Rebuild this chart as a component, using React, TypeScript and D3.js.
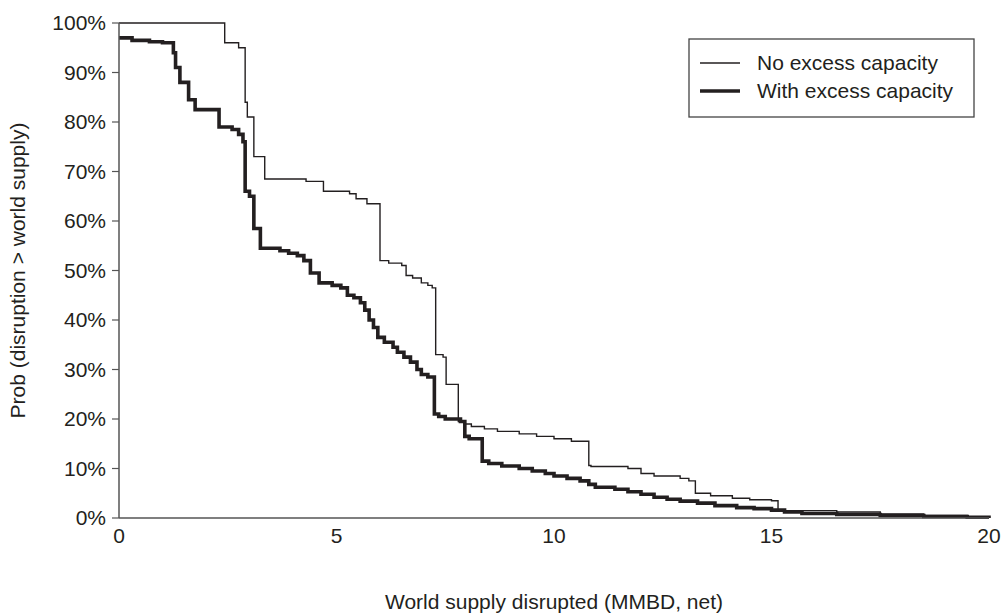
import React from "react";
import * as d3 from "d3";

const noExcessX = [0, 2.43, 2.75, 2.9, 2.95, 3.1, 3.35, 4.3, 4.7, 5.3, 5.45, 5.7, 6.0, 6.2, 6.5, 6.6, 6.75, 6.95, 7.1, 7.2, 7.28, 7.45, 7.52, 7.8, 7.95, 8.1, 8.4, 8.7, 9.2, 9.6, 10.0, 10.4, 10.8, 10.85, 11.7, 12.0, 12.3, 12.9, 13.1, 13.25, 13.6, 14.1, 14.5, 15.0, 15.15, 16.5, 17.5, 18.5, 19.5, 20];
const noExcessY = [100, 96, 95, 84, 81, 73, 68.5, 68, 66, 65.5, 64.5, 63.5, 52, 51.5, 51, 49, 48.5, 47.5, 47, 46.5, 33, 32.5, 27, 19.5, 19, 18.5, 18, 17.5, 17, 16.5, 16, 15.5, 10.6, 10.4, 10, 9, 8.5, 8, 7.5, 5, 4.5, 4, 3.7, 3.5, 1.5, 1.2, 0.8, 0.5, 0.2, 0];

const withExcessX = [0, 0.3, 0.7, 1.0, 1.25, 1.3, 1.4, 1.6, 1.75, 2.3, 2.6, 2.75, 2.85, 2.9, 3.0, 3.1, 3.25, 3.7, 3.9, 4.1, 4.25, 4.4, 4.6, 4.9, 5.1, 5.25, 5.4, 5.55, 5.65, 5.75, 5.85, 5.95, 6.1, 6.3, 6.4, 6.55, 6.7, 6.85, 6.95, 7.1, 7.25, 7.35, 7.5, 7.85, 7.95, 8.05, 8.35, 8.5, 8.8, 9.2, 9.5, 9.8, 10.0, 10.3, 10.6, 10.8, 10.95, 11.4, 11.7, 12.0, 12.3, 12.6, 12.9, 13.3, 13.7, 14.2, 14.6, 15.0, 15.3, 15.7, 16.5, 17.5, 18.5, 19.5, 20];
const withExcessY = [97, 96.5, 96.2, 96, 94, 91, 88, 84.5, 82.5, 79, 78.5, 77.5, 76, 66, 65, 58.5, 54.5, 54, 53.5, 53, 52, 49.5, 47.5, 47, 46.5, 45, 44.5, 43.5, 42, 40, 38.5, 36.5, 35.5, 34.5, 33.5, 32.5, 31.5, 30, 29, 28.5, 21, 20.5, 20, 19.5, 16.5, 16, 11.5, 11, 10.5, 10, 9.5, 9, 8.5, 8, 7.5, 6.8, 6.2, 5.8, 5.3, 4.8, 4.2, 3.8, 3.4, 3, 2.5, 2.1, 1.9, 1.6, 1.2, 0.9, 0.7, 0.5, 0.3, 0.15, 0];

const xTicks = [0, 5, 10, 15, 20];
const yTicks = [0, 10, 20, 30, 40, 50, 60, 70, 80, 90, 100];
const seriesNames = ["No excess capacity", "With excess capacity"];

const W = 1003;
const H = 613;
const left = 119, right = 989, top = 23, bottom = 518;
const font = "'Liberation Sans', Arial, sans-serif";
const fs = 21;
const ink = "#231f20";

export default function App() {
  const x = d3.scaleLinear().domain([0, 20]).range([left, right]);
  const y = d3.scaleLinear().domain([0, 100]).range([bottom, top]);
  const line = d3
    .line<[number, number]>()
    .x((d) => x(d[0]))
    .y((d) => y(d[1]))
    .curve(d3.curveStepAfter);
  const thin = noExcessX.map((v, i) => [v, noExcessY[i]] as [number, number]);
  const thick = withExcessX.map((v, i) => [v, withExcessY[i]] as [number, number]);

  return (
    <div style={{ position: "fixed", left: 0, top: 0 }}>
      <svg width={W} height={H} style={{ display: "block", background: "#fff" }}>
        <path d={line(thin) || ""} fill="none" stroke={ink} strokeWidth={1.4} />
        <path d={line(thick) || ""} fill="none" stroke={ink} strokeWidth={3.6} />
        <line x1={left} x2={left} y1={top} y2={bottom} stroke="#555" strokeWidth={1.5} />
        <line x1={left} x2={right} y1={bottom} y2={bottom} stroke="#555" strokeWidth={1.5} />
        {yTicks.map((t) => (
          <g key={"y" + t}>
            <line x1={left - 7} x2={left} y1={y(t)} y2={y(t)} stroke="#555" strokeWidth={1.2} />
            <text x={left - 13} y={y(t)} dy="0.35em" textAnchor="end" fontFamily={font} fontSize={fs} fill={ink}>
              {t + "%"}
            </text>
          </g>
        ))}
        {xTicks.map((t) => (
          <text key={"x" + t} x={x(t)} y={bottom + 25} textAnchor="middle" fontFamily={font} fontSize={fs} fill={ink}>
            {t}
          </text>
        ))}
        <text x={(left + right) / 2} y={609} textAnchor="middle" fontFamily={font} fontSize={fs} fill={ink}>
          World supply disrupted (MMBD, net)
        </text>
        <text
          transform={`translate(25,${(top + bottom) / 2}) rotate(-90)`}
          textAnchor="middle"
          fontFamily={font}
          fontSize={fs}
          fill={ink}
        >
          Prob (disruption &gt; world supply)
        </text>
        <rect x={689} y={39} width={285} height={78} fill="#fff" stroke="#444" strokeWidth={1.3} />
        <line x1={700} x2={740} y1={63} y2={63} stroke={ink} strokeWidth={1.4} />
        <line x1={700} x2={740} y1={91} y2={91} stroke={ink} strokeWidth={3.6} />
        <text x={757} y={63} dy="0.35em" fontFamily={font} fontSize={fs} fill={ink}>
          {seriesNames[0]}
        </text>
        <text x={757} y={91} dy="0.35em" fontFamily={font} fontSize={fs} fill={ink}>
          {seriesNames[1]}
        </text>
      </svg>
    </div>
  );
}
